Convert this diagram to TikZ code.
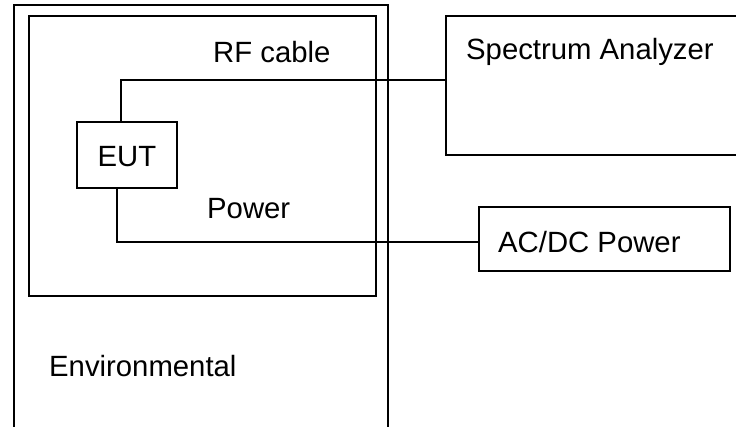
\documentclass[tikz,border=0pt]{standalone}
\usepackage{fontspec}
\setmainfont{Liberation Sans}
\begin{document}
\begin{tikzpicture}[x=1pt,y=-1pt,
  box/.style={draw,line width=1.5pt,inner sep=0pt,outer sep=0pt,anchor=north west},
  lbl/.style={inner sep=0pt,anchor=base west,font=\fontsize{29.3}{33}\selectfont},
  wire/.style={line width=1.5pt}]
\useasboundingbox (0,0) rectangle (736,427);
\node[box,minimum width=374pt,minimum height=460pt] (env) at (14,5) {};
\node[box,minimum width=347pt,minimum height=280pt] (chamber) at (29,16) {};
\node[box,minimum width=320pt,minimum height=139pt] (sa) at (446,16) {};
\node[box,minimum width=251pt,minimum height=64pt] (ac) at (479,207) {};
\node[box,minimum width=100pt,minimum height=66pt] (eut) at (77,122) {};
\node[lbl,anchor=base] (eutt) at (127,167) {EUT};
\node[lbl] (rft) at (213,63) {RF cable};
\node[lbl] (pwt) at (207,219) {Power};
\node[lbl] (sat) at (466,60) {Spectrum Analyzer};
\node[lbl] (act) at (498,253) {AC/DC Power};
\node[lbl] (envt) at (49,377) {Environmental};
\draw[wire] ([xshift=-6pt]eut.north) |- ([yshift=5.5pt]sa.west);
\draw[wire] ([xshift=-10pt]eut.south) |- ([yshift=-3pt]ac.west);
\end{tikzpicture}
\end{document}
